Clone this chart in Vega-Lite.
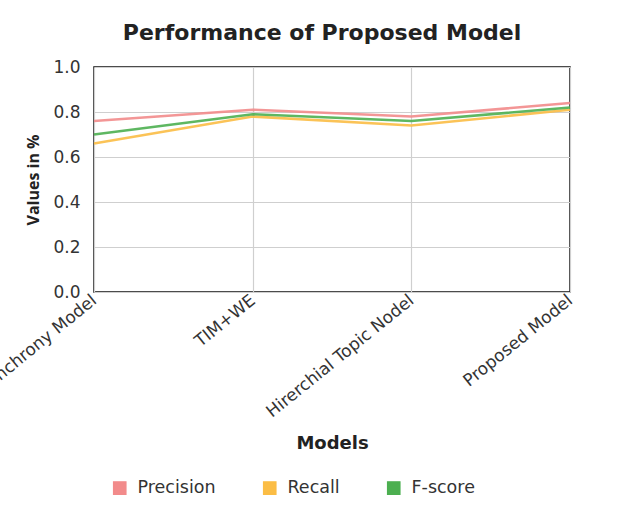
{
  "$schema": "https://vega.github.io/schema/vega-lite/v6.json",
  "autosize": "none",
  "width": 476,
  "height": 225,
  "padding": {"left": 94, "top": 67, "right": 60, "bottom": 219},
  "background": "white",
  "title": {
    "text": "Performance of Proposed Model",
    "anchor": "middle",
    "font": "DejaVu Sans",
    "fontSize": 22,
    "fontWeight": "bold",
    "color": "#222",
    "offset": 13,
    "dx": -10
  },
  "config": {
    "font": "DejaVu Sans",
    "view": {"stroke": "#111", "strokeWidth": 1.5}
  },
  "data": {
    "values": [
      {"model": "Synchrony Model", "metric": "Precision", "value": 0.76},
      {"model": "TIM+WE", "metric": "Precision", "value": 0.81},
      {"model": "Hirerchial Topic Nodel", "metric": "Precision", "value": 0.78},
      {"model": "Proposed Model", "metric": "Precision", "value": 0.84},
      {"model": "Synchrony Model", "metric": "Recall", "value": 0.66},
      {"model": "TIM+WE", "metric": "Recall", "value": 0.78},
      {"model": "Hirerchial Topic Nodel", "metric": "Recall", "value": 0.74},
      {"model": "Proposed Model", "metric": "Recall", "value": 0.81},
      {"model": "Synchrony Model", "metric": "F-score", "value": 0.70},
      {"model": "TIM+WE", "metric": "F-score", "value": 0.79},
      {"model": "Hirerchial Topic Nodel", "metric": "F-score", "value": 0.76},
      {"model": "Proposed Model", "metric": "F-score", "value": 0.82}
    ]
  },
  "encoding": {
    "x": {
      "field": "model",
      "type": "nominal",
      "sort": null,
      "scale": {"type": "point", "padding": 0},
      "axis": {
        "title": "Models",
        "titleFont": "DejaVu Sans",
        "titleFontSize": 18,
        "titleFontWeight": "bold",
        "titleColor": "#222",
        "titlePadding": 15,
        "labelAngle": -39,
        "labelAlign": "right",
        "labelBaseline": "middle",
        "labelFont": "DejaVu Sans",
        "labelFontSize": 17,
        "labelColor": "#333",
        "labelPadding": 6,
        "labelLimit": 400,
        "labelOverlap": false,
        "labelBound": false,
        "labelFlush": false,
        "ticks": false,
        "domain": false,
        "grid": true,
        "gridColor": "#cfcfcf",
        "gridWidth": 1.2
      }
    },
    "y": {
      "field": "value",
      "type": "quantitative",
      "scale": {"domain": [0, 1], "nice": false},
      "axis": {
        "title": "Values in %",
        "titleFont": "Open Sans",
        "titleFontSize": 16,
        "titleFontWeight": "bold",
        "titleColor": "#222",
        "titlePadding": 11,
        "values": [0, 0.2, 0.4, 0.6, 0.8, 1.0],
        "format": ".1f",
        "labelFont": "DejaVu Sans",
        "labelFontSize": 17,
        "labelColor": "#333",
        "labelPadding": 14,
        "ticks": false,
        "domain": false,
        "grid": true,
        "gridColor": "#cfcfcf",
        "gridWidth": 1.2
      }
    }
  },
  "layer": [
    {
      "mark": {
        "type": "point",
        "shape": "square",
        "filled": true,
        "size": 0,
        "strokeWidth": 1.2
      },
      "encoding": {
        "stroke": {"value": "#222"},
        "color": {
          "field": "metric",
          "type": "nominal",
          "sort": ["Precision", "Recall", "F-score"],
          "scale": {
            "domain": ["Precision", "Recall", "F-score"],
            "range": ["#f28b8b", "#fbbd45", "#4caf50"]
          },
          "legend": {
            "title": null,
            "orient": "none",
            "direction": "horizontal",
            "legendX": 17,
            "legendY": 412,
            "symbolType": "square",
            "symbolSize": 155,
            "symbolOpacity": 1,
            "symbolStrokeColor": "#222",
            "symbolStrokeWidth": 1.2,
            "labelFont": "DejaVu Sans",
            "labelFontSize": 17.5,
            "labelColor": "#333",
            "labelOffset": 9,
            "columnPadding": 45
          }
        }
      }
    },
    {
      "mark": {"type": "line", "strokeWidth": 2.6, "opacity": 0.9},
      "encoding": {
        "stroke": {
          "field": "metric",
          "type": "nominal",
          "sort": ["Precision", "Recall", "F-score"],
          "scale": {
            "domain": ["Precision", "Recall", "F-score"],
            "range": ["#f28b8b", "#fbbd45", "#4caf50"]
          },
          "legend": null
        }
      }
    }
  ]
}
